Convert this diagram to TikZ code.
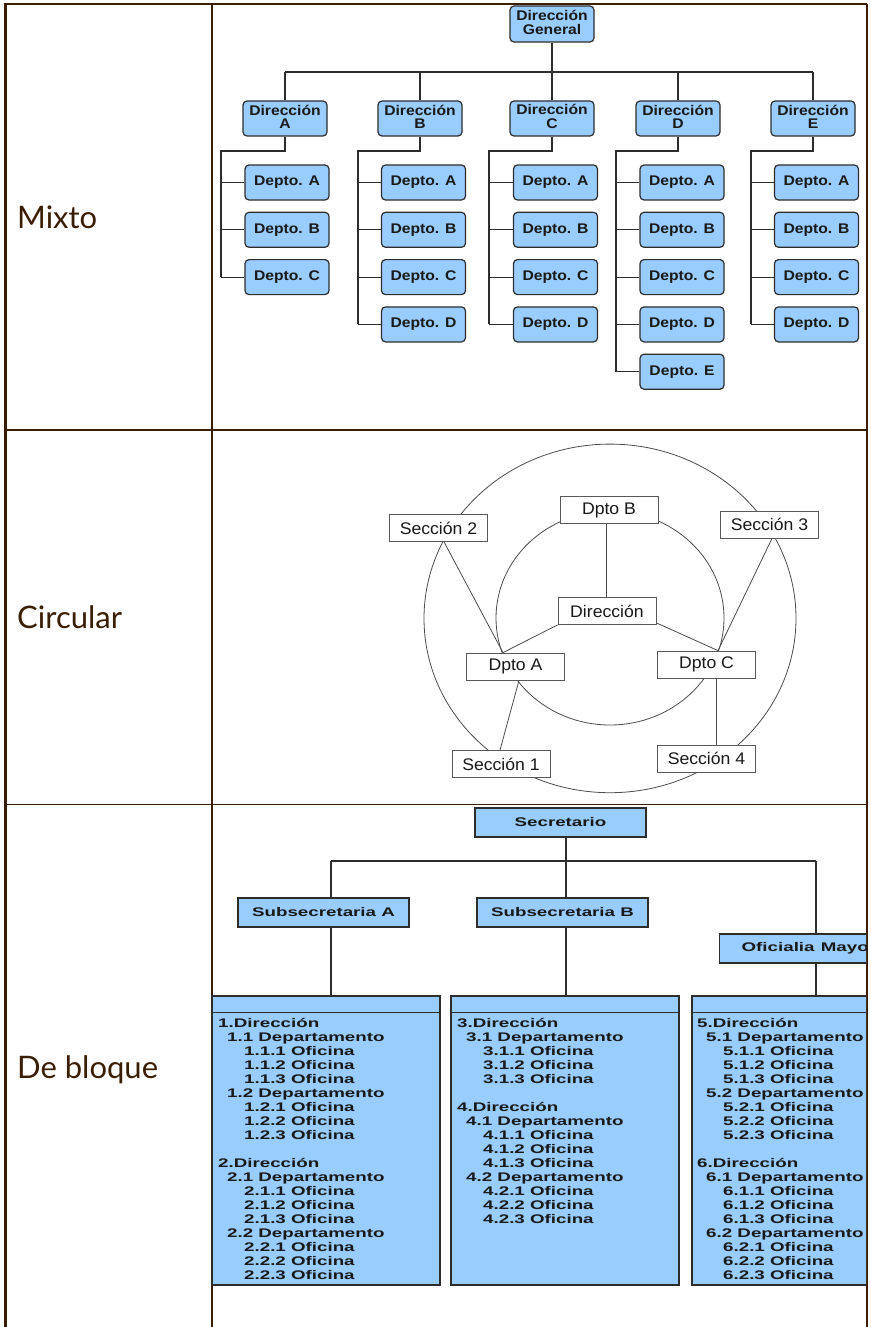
\documentclass[tikz,border=0pt]{standalone}
\usepackage{fontspec}
\usepackage{graphicx}
\setmainfont{Liberation Sans}
\newfontfamily\labelfont{Lato}
\usetikzlibrary{calc}

\definecolor{tabline}{RGB}{58,30,4}
\definecolor{boxblue}{RGB}{153,204,255}
\definecolor{edge}{RGB}{45,45,45}

% horizontally widened text for the three charts
\newcommand\mwide[1]{\scalebox{1.12}[1]{#1}}
\newcommand\cwide[1]{\scalebox{1.05}[1]{#1}}
\newcommand\bwide[1]{\scalebox{1.5}[1]{#1}}

\tikzset{
  rowlabel/.style={anchor=base west, inner sep=0pt, text=tabline,
    font=\labelfont\fontsize{31}{31}\selectfont},
  tabrule/.style={draw=tabline, line width=1.5pt},
  orgbox/.style={draw=edge, fill=boxblue, line width=1.2pt, rounded corners=4pt,
    minimum width=84pt, minimum height=35pt, inner sep=0pt, text=black!90,
    font=\bfseries\fontsize{14}{12.5}\selectfont},
  orgline/.style={draw=edge, line width=1.2pt},
  ringbox/.style={draw=black!65, fill=white, line width=0.8pt,
    minimum width=98pt, minimum height=27pt, inner sep=0pt, text=black!90,
    font=\fontsize{16.8}{18}\selectfont},
  ringline/.style={draw=black!70, line width=0.8pt},
  blockbox/.style={draw=edge, fill=boxblue, line width=1.3pt,
    minimum width=171pt, minimum height=29pt, inner sep=0pt, text=black!90,
    font=\bfseries\fontsize{12.5}{14}\selectfont},
  listbox/.style={draw=edge, fill=boxblue, line width=1.3pt,
    minimum width=228pt, minimum height=289pt, inner sep=0pt},
  blockline/.style={draw=edge, line width=1.3pt},
  listtext/.style={anchor=base west, inner sep=0pt, text=black!90,
    font=\bfseries\fontsize{12.5}{14}\selectfont},
}

% one text line inside a block: name, left x, row, indent, text
\newcommand\listline[5]{%
  \node[listtext] (#1) at ({#2+#4},{1027.5+14*(#3)}) {\bwide{#5}};}

\begin{document}
\begin{tikzpicture}[x=1pt,y=-1pt]
\useasboundingbox (0,0) rectangle (870,1327);
\fill[white] (0,0) rectangle (870,1327);

% ---------- table frame ----------
\draw[tabrule] (212,4) -- (212,1327);
\draw[tabrule] (5,430) -- (867,430);
\draw[tabrule] (5,804.5) -- (867,804.5);
\draw[tabline, line width=2pt] (867,4) -- (867,1327);
\draw[tabline, line width=2pt] (5,4.3) -- (867,4.3);
\draw[tabline, line width=2.6pt] (5.3,3) -- (5.3,1327);

\node[rowlabel] (lab1) at (17,228) {Mixto};
\node[rowlabel] (lab2) at (17,628) {Circular};
\node[rowlabel] (lab3) at (17,1078) {De bloque};

% ---------- mixed chart ----------
\node[orgbox, minimum height=36pt] (dg) at (552,24)
  {\mwide{\begin{tabular}{@{}c@{}}Dirección\\General\end{tabular}}};
\coordinate (barL) at (285,72);
\coordinate (barR) at (813,72);
\draw[orgline] (barL) -- (barR);
\draw[orgline] (dg.south) -- (dg.south |- barL);

\foreach \nm/\dx/\kx/\tx/\cnt in {A/285/287/221/3,B/420/423.5/358/4,C/552/555.5/489/4,D/678/682/616/5,E/813/816.5/751/4}{
  \node[orgbox] (d\nm) at (\dx,118.5)
    {\mwide{\begin{tabular}{@{}c@{}}Dirección\\\nm\end{tabular}}};
  \draw[orgline] (d\nm.north) -- (d\nm.north |- barL);
  \coordinate (t\nm) at (\tx,151);
  \foreach \k/\lt in {1/A,2/B,3/C,4/D,5/E}{
    \ifnum\k>\cnt\relax\else
      \node[orgbox] (d\nm\k) at (\kx,{182.5+47.3*(\k-1)}) {\mwide{Depto. \lt}};
      \draw[orgline] (t\nm |- d\nm\k.west) -- (d\nm\k.west);
    \fi
  }
  \draw[orgline] (d\nm.south) |- (t\nm) -- (t\nm |- d\nm\cnt.west);
}

% ---------- circular chart ----------
\draw[ringline] (610,618.4) ellipse (186 and 174.3);
\draw[ringline] (610,618) ellipse (114 and 107);

\node[ringbox] (cB)   at (609,510)   {\cwide{Dpto B}};
\node[ringbox] (cdir) at (607,611)   {\cwide{Dirección}};
\node[ringbox] (cA)   at (515.5,666.5) {\cwide{Dpto A}};
\node[ringbox] (cC)   at (706.5,664.5) {\cwide{Dpto C}};
\node[ringbox] (cs2)  at (438.5,528) {\cwide{Sección 2}};
\node[ringbox] (cs3)  at (769.5,524.5) {\cwide{Sección 3}};
\node[ringbox] (cs1)  at (501,764)   {\cwide{Sección 1}};
\node[ringbox] (cs4)  at (706.5,758.5) {\cwide{Sección 4}};

\draw[ringline] ($(cdir.north)+(-1,0)$) -- ($(cB.south)+(-3,0)$);
\draw[ringline] (cdir.south west) -- ($(cA.north)+(-12.5,0)$);
\draw[ringline] ($(cdir.south east)+(0,-2)$) -- ($(cC.north)+(11.5,0)$);
\draw[ringline] ($(cs2.south)+(5.5,0)$) -- ($(cA.north)+(-12.5,0)$);
\draw[ringline] ($(cs3.south)+(2.5,0)$) -- ($(cC.north)+(11.5,0)$);
\draw[ringline] ($(cA.south)+(3.5,0)$) -- ($(cs1.north)+(-1,0)$);
\draw[ringline] ($(cC.south)+(9.5,0)$) -- ($(cs4.north)+(9.5,0)$);

% ---------- block chart ----------
\begin{scope}
\clip (200,806) rectangle (866,1300);
\node[blockbox] (sec)  at (560.5,822.5) {\bwide{Secretario}};
\node[blockbox] (subA) at (323.5,912.5) {\bwide{Subsecretaria A}};
\node[blockbox] (subB) at (562.5,912.5) {\bwide{Subsecretaria B}};
\node[blockbox, anchor=west, text width=171pt, align=left] (ofm) at (719,948.5)
  {\hspace*{22pt}\bwide{Oficialia Mayor}};

\coordinate (jA) at (331,861);
\coordinate (jB) at (566,861);
\coordinate (jC) at (816,861);
\draw[blockline] (jA) -- (jC);
\draw[blockline] (sec.south -| jB) -- (subB.north -| jB);
\draw[blockline] (jA) -- (subA.north -| jA);
\draw[blockline] (jC) -- (ofm.north -| jC);

\node[listbox] (blk1) at (326,1140.5) {};
\node[listbox] (blk2) at (565,1140.5) {};
\node[listbox] (blk3) at (806,1140.5) {};
\foreach \b in {blk1,blk2,blk3}
  \draw[blockline] ($(\b.north west)+(0,17)$) -- ($(\b.north east)+(0,17)$);

\draw[blockline] (subA.south -| jA) -- (blk1.north -| jA);
\draw[blockline] (subB.south -| jB) -- (blk2.north -| jB);
\draw[blockline] (ofm.south -| jC) -- (blk3.north -| jC);

% first and third block: two directions with two departments each
\foreach \bx/\a/\c in {218/1/2,697/5/6}{
  \foreach \d/\r in {\a/0,\c/10}{
    \listline{L\bx-\r}{\bx}{\r}{0}{\d.Dirección}
    \foreach \s/\q in {1/1,2/5}{
      \listline{L\bx-\r-\s}{\bx}{\r+\q}{9}{\d.\s\ Departamento}
      \foreach \o in {1,2,3}{
        \listline{L\bx-\r-\s-\o}{\bx}{\r+\q+\o}{26}{\d.\s.\o\ Oficina}
      }
    }
  }
}
% second block: one direction with one department, one with two
\listline{M0}{457}{0}{0}{3.Dirección}
\listline{M1}{457}{1}{9}{3.1 Departamento}
\foreach \o in {1,2,3}{\listline{M1-\o}{457}{1+\o}{26}{3.1.\o\ Oficina}}
\listline{M6}{457}{6}{0}{4.Dirección}
\foreach \s/\q in {1/7,2/11}{
  \listline{M4-\s}{457}{\q}{9}{4.\s\ Departamento}
  \foreach \o in {1,2,3}{\listline{M4-\s-\o}{457}{\q+\o}{26}{4.\s.\o\ Oficina}}
}
\end{scope}
\end{tikzpicture}
\end{document}
